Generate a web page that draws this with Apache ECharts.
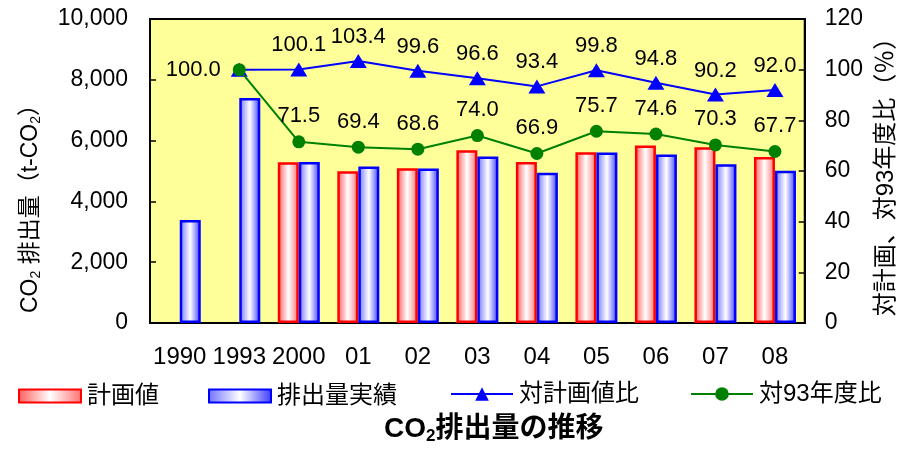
<!DOCTYPE html>
<html>
<head>
<meta charset="utf-8">
<script src="https://cdn.jsdelivr.net/npm/echarts@6/dist/echarts.min.js"></script>
<style>
  html, body { margin: 0; padding: 0; background: #fff; }
  #chart { width: 906px; height: 450px; }
</style>
</head>
<body>
<div id="chart"></div>
<script>
// Fiscal years on the category axis
const years = ['1990', '1993', '2000', '01', '02', '03', '04', '05', '06', '07', '08'];
// Planned CO2 emissions (t-CO2)
const planned = [null, null, 5290, 4990, 5090, 5680, 5300, 5620, 5840, 5780, 5460];
// Actual CO2 emissions (t-CO2)
const actual = [3390, 7400, 5300, 5150, 5080, 5480, 4940, 5610, 5540, 5220, 5010];
// Actual vs plan (%)
const vsPlan = [null, 100.0, 100.1, 103.4, 99.6, 96.6, 93.4, 99.8, 94.8, 90.2, 92.0];
// Actual vs fiscal 1993 (%)
const vs1993 = [null, 100.0, 71.5, 69.4, 68.6, 74.0, 66.9, 75.7, 74.6, 70.3, 67.7];

const FONT = '"Liberation Sans", Arial, "Noto Sans CJK JP", sans-serif';

function barFill(edgeL, edgeR) {
  return new echarts.graphic.LinearGradient(0, 0, 1, 0, [
    { offset: 0, color: edgeL },
    { offset: 0.5, color: '#ffffff' },
    { offset: 1, color: edgeR }
  ]);
}

const chart = echarts.init(document.getElementById('chart'));

const legendBase = {
  orient: 'horizontal',
  top: 379,
  itemWidth: 62,
  itemHeight: 13,
  itemGap: 10,
  textStyle: { fontSize: 24, color: '#000', fontFamily: FONT, padding: [0, 0, 0, 1] }
};

chart.setOption({
  animation: false,
  textStyle: { fontFamily: FONT },
  title: {
    text: '{a|CO}{s|2}{a|排出量の推移}',
    left: 379,
    top: 409,
    textStyle: {
      rich: {
        a: { fontSize: 28, fontWeight: 'bold', color: '#000', fontFamily: FONT },
        s: { fontSize: 17, fontWeight: 'bold', color: '#000', fontFamily: FONT, padding: [14, 0, 0, 0] }
      }
    }
  },
  legend: [
    Object.assign({}, legendBase, { left: 13, data: [{ name: '計画値', icon: 'rect' }] }),
    Object.assign({}, legendBase, { left: 203, data: [{ name: '排出量実績', icon: 'rect' }] }),
    Object.assign({}, legendBase, { left: 445, top: 377, itemHeight: 17, data: ['対計画値比'] }),
    Object.assign({}, legendBase, { left: 685, top: 377, itemHeight: 17, data: ['対93年度比'] })
  ],
  grid: {
    left: 150, right: 101, top: 19, bottom: 127,
    show: true,
    backgroundColor: '#ffff99',
    borderColor: '#000',
    borderWidth: 2
  },
  xAxis: {
    type: 'category',
    data: years,
    axisLine: { lineStyle: { color: '#000', width: 2 } },
    axisTick: { inside: true, length: 6, lineStyle: { color: '#000', width: 1.5 } },
    axisLabel: { color: '#000', fontSize: 24, margin: 22, interval: 0, fontFamily: FONT }
  },
  yAxis: [
    {
      type: 'value',
      min: 0, max: 10000, interval: 2000,
      position: 'left',
      splitLine: { show: false },
      axisLine: { show: true, lineStyle: { color: '#000', width: 2 } },
      axisTick: { show: true, inside: true, length: 6, lineStyle: { color: '#000', width: 1.5 } },
      axisLabel: {
        color: '#000', fontSize: 23, margin: 22, fontFamily: FONT,
        formatter: v => v.toLocaleString('en-US')
      },
      name: '{a|CO}{s|2}{a| 排出量（t-CO}{s|2}{a|）}',
      nameLocation: 'middle',
      nameRotate: 90,
      nameGap: 107,
      nameTextStyle: {
        padding: [0, 64, 0, 0],
        rich: {
          a: { fontSize: 23, color: '#000', fontFamily: FONT },
          s: { fontSize: 14, color: '#000', fontFamily: FONT, padding: [11, 0, 0, 0] }
        }
      }
    },
    {
      type: 'value',
      min: 0, max: 120, interval: 20,
      position: 'right',
      splitLine: { show: false },
      axisLine: { show: true, lineStyle: { color: '#000', width: 2 } },
      axisTick: { show: true, inside: true, length: 6, lineStyle: { color: '#000', width: 1.5 } },
      axisLabel: { color: '#000', fontSize: 23, margin: 20, fontFamily: FONT },
      name: '対計画、対93年度比（％）',
      nameLocation: 'middle',
      nameRotate: 90,
      nameGap: 67,
      nameTextStyle: { fontSize: 24, color: '#000', fontFamily: FONT }
    }
  ],
  series: [
    {
      name: '計画値',
      type: 'bar',
      yAxisIndex: 0,
      data: planned,
      barWidth: 21,
      barGap: '0%',
      itemStyle: {
        color: barFill('#ff5a5a', '#ff7070'),
        borderColor: '#ff0000',
        borderWidth: 2.5
      }
    },
    {
      name: '排出量実績',
      type: 'bar',
      yAxisIndex: 0,
      data: actual,
      barWidth: 21,
      barGap: '0%',
      itemStyle: {
        color: barFill('#7070ff', '#3a3aff'),
        borderColor: '#0000ff',
        borderWidth: 2.5
      }
    },
    {
      name: '対計画値比',
      type: 'line',
      yAxisIndex: 1,
      data: vsPlan.map((v, i) => ({
        value: v,
        label: { show: i > 1 }
      })),
      symbol: 'triangle',
      symbolSize: [17, 14],
      color: '#0000ff',
      lineStyle: { color: '#0000ff', width: 2 },
      itemStyle: { color: '#0000ff' },
      label: {
        position: 'top',
        distance: 6,
        color: '#000',
        fontSize: 22,
        fontFamily: FONT,
        formatter: p => p.value.toFixed(1)
      },
      z: 3
    },
    {
      name: '対93年度比',
      type: 'line',
      yAxisIndex: 1,
      data: vs1993.map((v, i) => ({
        value: v,
        label: i === 1 ? { position: 'left', distance: 12 } : {}
      })),
      symbol: 'circle',
      symbolSize: 13,
      color: '#008000',
      lineStyle: { color: '#008000', width: 2 },
      itemStyle: { color: '#008000' },
      label: {
        show: true,
        position: 'top',
        distance: 8,
        color: '#000',
        fontSize: 22,
        fontFamily: FONT,
        formatter: p => p.value.toFixed(1)
      },
      z: 4
    }
  ]
});
</script>
</body>
</html>
